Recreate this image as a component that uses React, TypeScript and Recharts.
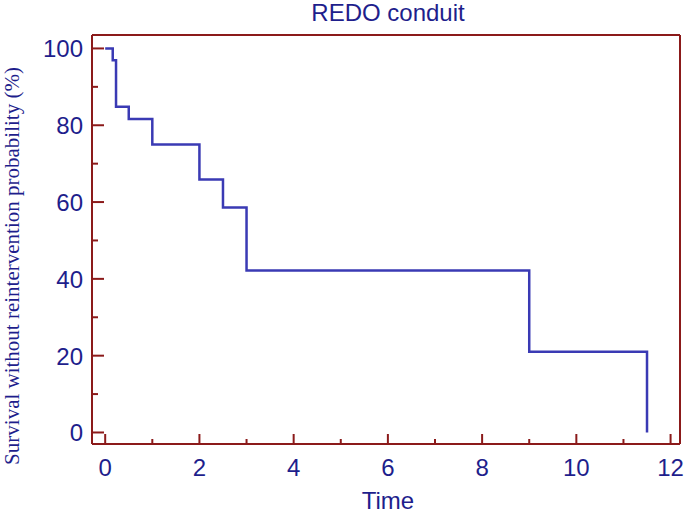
import { LineChart, Line, XAxis, YAxis } from "recharts";

// Kaplan-Meier step points (time, survival %)
const times = [0, 0.16, 0.23, 0.5, 1, 2, 2.5, 3, 9, 11.5];
const survival = [100, 96.9, 84.8, 81.6, 75, 65.9, 58.6, 42.2, 21, 0];

const xTicks = [0, 1, 2, 3, 4, 5, 6, 7, 8, 9, 10, 11, 12];
const yTicks = [0, 10, 20, 30, 40, 50, 60, 70, 80, 90, 100];

const data = times.map((t, i) => ({ t, s: survival[i] }));

const FRAME = "#8b1a1a";
const LINE = "#3a3ab4";
const TEXT = "#1e1e8c";
const SANS = "'Liberation Sans', Arial, sans-serif";

const XTick = (props: any) => {
  const { x, y, payload } = props;
  const major = payload.value % 2 === 0;
  return (
    <g>
      <line x1={x} x2={x} y1={y} y2={y - (major ? 10 : 5)} stroke={FRAME} strokeWidth={2} />
      {major && (
        <text x={x} y={y + 32} textAnchor="middle" fill={TEXT} fontSize={24} fontFamily={SANS}>
          {payload.value}
        </text>
      )}
    </g>
  );
};

const YTick = (props: any) => {
  const { x, y, payload } = props;
  const major = payload.value % 20 === 0;
  return (
    <g>
      <line x1={x} x2={x + (major ? 12 : 6)} y1={y} y2={y} stroke={FRAME} strokeWidth={2} />
      {major && (
        <text x={x - 9} y={y + 9} textAnchor="end" fill={TEXT} fontSize={24} fontFamily={SANS}>
          {payload.value}
        </text>
      )}
    </g>
  );
};

export default function App() {
  return (
    <div style={{ position: "absolute", left: 0, top: 0, width: 685, height: 516, background: "#fff" }}>
      <LineChart width={685} height={516} data={data} margin={{ top: 34, right: 4, bottom: 0, left: 0 }}>
        <XAxis
          dataKey="t"
          type="number"
          domain={[-0.28, 12.2]}
          ticks={xTicks}
          interval={0}
          height={72}
          tickSize={0}
          tickMargin={0}
          tickLine={false}
          tick={XTick}
          axisLine={{ stroke: FRAME, strokeWidth: 2 }}
        />
        <XAxis
          xAxisId="top"
          orientation="top"
          dataKey="t"
          type="number"
          domain={[-0.28, 12.2]}
          height={1}
          tick={false}
          tickLine={false}
          axisLine={{ stroke: FRAME, strokeWidth: 2 }}
        />
        <YAxis
          type="number"
          domain={[-3, 103.5]}
          ticks={yTicks}
          interval={0}
          width={92}
          tickSize={0}
          tickMargin={0}
          tickLine={false}
          tick={YTick}
          axisLine={{ stroke: FRAME, strokeWidth: 2 }}
        />
        <YAxis
          yAxisId="right"
          orientation="right"
          type="number"
          domain={[-3, 103.5]}
          width={1}
          tick={false}
          tickLine={false}
          axisLine={{ stroke: FRAME, strokeWidth: 2 }}
        />
        <Line
          xAxisId="top"
          yAxisId="right"
          dataKey="s"
          type="stepAfter"
          stroke="none"
          dot={false}
          legendType="none"
          isAnimationActive={false}
        />
        <Line
          dataKey="s"
          type="stepAfter"
          stroke={LINE}
          strokeWidth={2.5}
          dot={false}
          isAnimationActive={false}
        />
        <text x={388} y={21} textAnchor="middle" fill={TEXT} fontSize={24} fontFamily={SANS}>
          REDO conduit
        </text>
        <text x={388} y={509} textAnchor="middle" fill={TEXT} fontSize={24} fontFamily={SANS}>
          Time
        </text>
        <text
          x={19}
          y={266}
          transform="rotate(-90 19 266)"
          textAnchor="middle"
          fill={TEXT}
          fontSize={21}
          fontFamily="'Liberation Serif', 'Times New Roman', serif"
        >
          Survival without reintervention probability (%)
        </text>
      </LineChart>
    </div>
  );
}
